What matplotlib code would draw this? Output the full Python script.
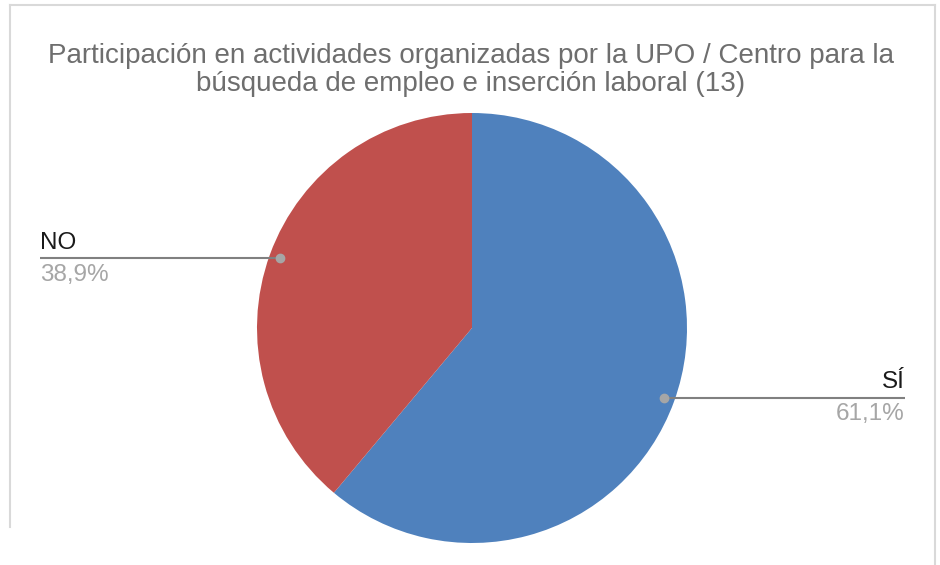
import matplotlib.pyplot as plt
import numpy as np
from matplotlib.lines import Line2D

plt.rcParams['font.family'] = ['Liberation Sans', 'DejaVu Sans']

# data
categories = ['SÍ', 'NO']
values = [61.1, 38.9]
value_labels = ['61,1%', '38,9%']
colors = ['#4F81BD', '#C0504D']
title = ('Participación en actividades organizadas por la UPO / Centro para la\n'
         'búsqueda de empleo e inserción laboral (13)')

W, H = 940, 565
fig = plt.figure(figsize=(W / 100, H / 100), dpi=100)

# pie axes: center (472, 328) px, radius 215 px
cx, cy, r = 472, 328, 215
ax = fig.add_axes([(cx - r) / W, (H - cy - r) / H, 2 * r / W, 2 * r / H])
wedges, _ = ax.pie(values, colors=colors, startangle=90, counterclock=False,
                   wedgeprops=dict(linewidth=0))
ax.set_xlim(-1, 1)
ax.set_ylim(-1, 1)
ax.set_aspect('equal')
ax.axis('off')

# leader lines and labels
line_end = {'SÍ': (905 - cx) / r, 'NO': (40 - cx) / r}
for w, cat, lab in zip(wedges, categories, value_labels):
    ang = np.deg2rad((w.theta1 + w.theta2) / 2)
    x0, y0 = 0.95 * np.cos(ang), 0.95 * np.sin(ang)
    x1 = line_end[cat]
    ax.plot([x0, x1], [y0, y0], color='#808080', lw=1.5, clip_on=False,
            solid_capstyle='butt')
    ax.plot(x0, y0, 'o', color='#A6A6A6', ms=6, clip_on=False, zorder=5)
    ha = 'left' if x1 < 0 else 'right'
    ax.text(x1, y0 + 0.02, cat, ha=ha, va='bottom', fontsize=17.5,
            color='#1a1a1a', clip_on=False)
    ax.text(x1, y0 - 0.025, lab, ha=ha, va='top', fontsize=17.5,
            color='#A6A6A6', clip_on=False)

fig.text(471 / W, 1 - 43 / H, title, ha='center', va='top', fontsize=20,
         color='#6E6E6E', linespacing=1.1)

# chart border
bc = '#D9D9D9'
fig.add_artist(Line2D([10 / W, 10 / W], [1 - 5 / H, 1 - 527 / H], color=bc, lw=1.5))
fig.add_artist(Line2D([10 / W, 935 / W], [1 - 5 / H, 1 - 5 / H], color=bc, lw=1.5))
fig.add_artist(Line2D([935 / W, 935 / W], [1 - 5 / H, 0], color=bc, lw=1.5))

fig.savefig('out.png', dpi=100, facecolor='white')
